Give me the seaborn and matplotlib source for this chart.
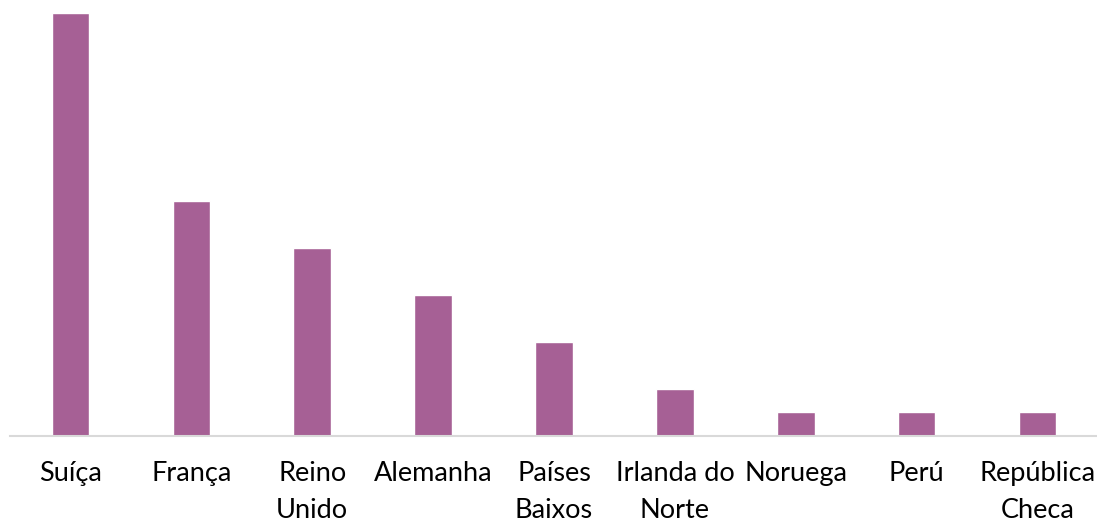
import matplotlib
matplotlib.use('Agg')
import pandas as pd
import seaborn as sns
import matplotlib.pyplot as plt

sns.set_style('white')
plt.rcParams['font.family'] = ['Lato', 'DejaVu Sans']

countries = ['Suíça', 'França', 'Reino\nUnido', 'Alemanha', 'Países\nBaixos',
             'Irlanda do\nNorte', 'Noruega', 'Perú', 'República\nCheca']
values = [18, 10, 8, 6, 4, 2, 1, 1, 1]

df = pd.DataFrame({'country': countries, 'value': values})

fig = plt.figure(figsize=(10.97, 5.24), dpi=100)
ax = fig.add_axes([0.009, 0.168, 0.992, 0.807])
sns.barplot(data=df, x='country', y='value', color='#A66095', width=0.31,
            saturation=1, ax=ax)

ax.set_ylim(0, 18)
ax.set_xlim(-0.5, 8.5)
ax.set_xlabel('')
ax.set_ylabel('')
ax.set_yticks([])
for s in ['top', 'right', 'left']:
    ax.spines[s].set_visible(False)
ax.spines['bottom'].set_color('#D9D9D9')
ax.spines['bottom'].set_linewidth(1.5)
ax.tick_params(axis='x', length=0, pad=18, labelsize=19.5, labelcolor='black')
for lbl in ax.get_xticklabels():
    lbl.set_linespacing(1.6)

fig.savefig('out.png', dpi=100)
